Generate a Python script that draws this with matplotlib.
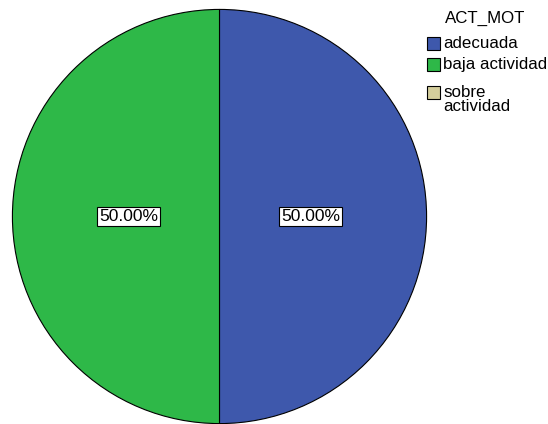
import numpy as np
import matplotlib.pyplot as plt
from matplotlib.patches import Rectangle

plt.rcParams["font.family"] = ["Liberation Sans", "DejaVu Sans"]

legend_title = "ACT_MOT"
categories = ["adecuada", "baja actividad", "sobre\nactividad"]
values = [50.0, 50.0, 0.0]
colors = ["#3E58AC", "#2EB848", "#D4CE9C"]

W, H = 548, 424
fig = plt.figure(figsize=(W / 100, H / 100), dpi=100)


def fx(x):
    return x / W


def fy(y):
    return 1 - y / H


ax = fig.add_axes([12 / W, 0 / H, 415 / W, 415 / H])

shown = [(v, c) for v, c in zip(values, colors) if v > 0]
wedges, _ = ax.pie([v for v, _ in shown], colors=[c for _, c in shown],
                   startangle=90, counterclock=False, radius=1.0,
                   wedgeprops=dict(edgecolor="black", linewidth=0.8))
ax.set_xlim(-1.002, 1.002)
ax.set_ylim(-1.002, 1.002)
ax.set_aspect("equal")
ax.axis("off")

# percentage labels, placed at the middle angle of each wedge
angle = 90.0
for v in [v for v, _ in shown]:
    mid = np.deg2rad(angle - v / 100 * 360 / 2)
    ax.text(0.44 * np.cos(mid), 0.44 * np.sin(mid), f"{v:.2f}%",
            ha="center", va="center", fontsize=12.5,
            bbox=dict(boxstyle="square,pad=0.1", facecolor="white",
                      edgecolor="black", linewidth=0.8))
    angle -= v / 100 * 360

# legend drawn by hand: title, swatches and labels
fs = 12.2
fig.text(fx(485), fy(18), legend_title, ha="center", va="center", fontsize=fs)
swatch_top = [37, 58, 86]
for top, label, color in zip(swatch_top, categories, colors):
    fig.add_artist(Rectangle((fx(427), fy(top + 13)), 13 / W, 13 / H,
                             transform=fig.transFigure, facecolor=color,
                             edgecolor="black", linewidth=0.8))
    fig.text(fx(443), fy(top - 1), label, ha="left", va="top", fontsize=fs,
             linespacing=0.88)

fig.savefig("out.png", dpi=100)
